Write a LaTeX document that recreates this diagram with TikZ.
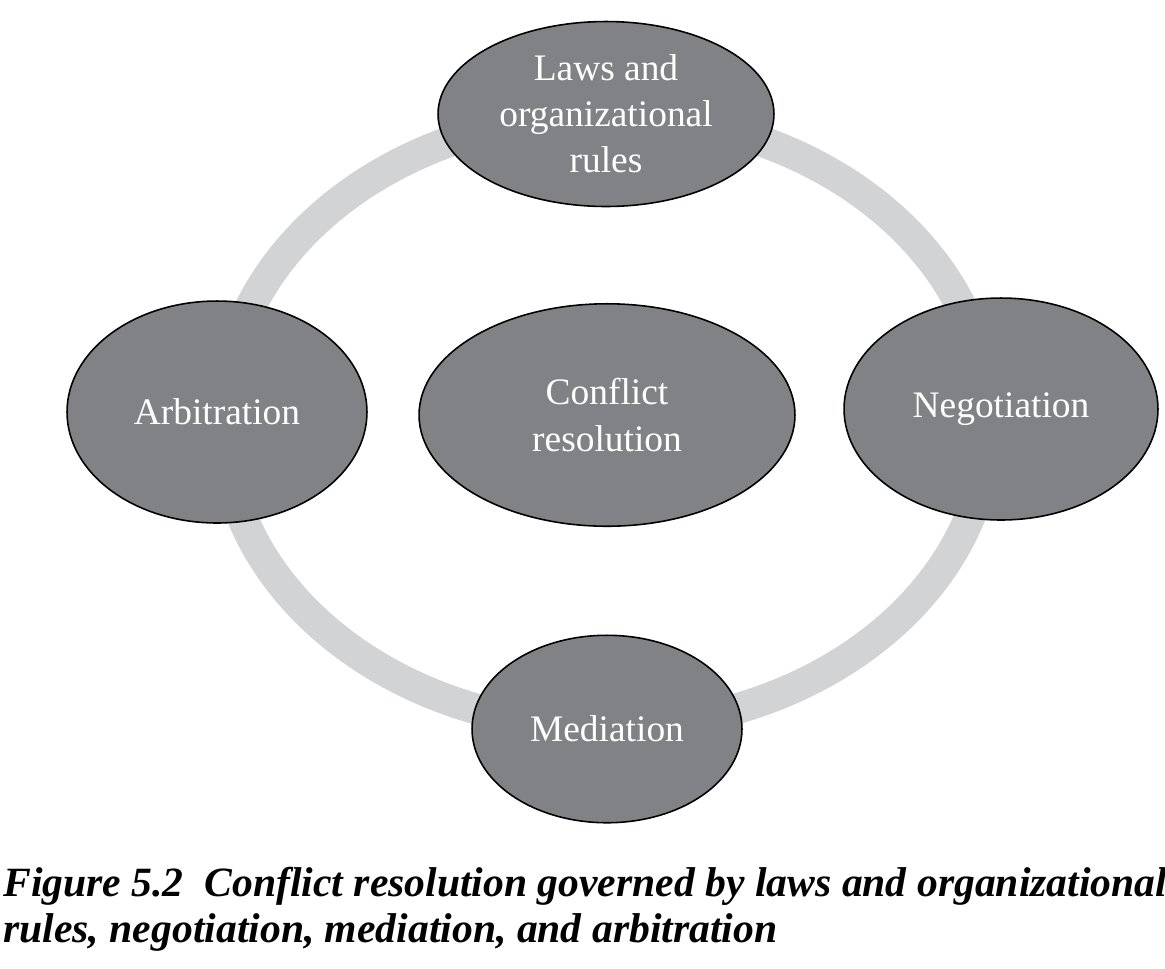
\documentclass[tikz,border=0pt]{standalone}
\usepackage{fontspec}
\setmainfont{Liberation Serif}
\usetikzlibrary{shapes.geometric}
\definecolor{bubblegray}{RGB}{128,130,133}
\definecolor{ringgray}{RGB}{209,211,212}
\tikzset{
  method bubble/.style={
    ellipse, draw=black, line width=0.9pt,
    fill=bubblegray, text=white, align=center,
    inner sep=0pt, font=\fontsize{21.3}{26.2}\selectfont
  },
  cycle ring/.style={draw=ringgray, line width=17.6pt},
  figure caption/.style={anchor=base west, inner sep=0pt,
    font=\fontsize{23.7}{27}\selectfont\bfseries\itshape}
}

\begin{document}
\begin{tikzpicture}[x=0.02cm, y=-0.02cm]
    \useasboundingbox (0,0) rectangle (1165,968);
    \coordinate (hub) at (606,421);
    \draw[cycle ring] (hub) ellipse [x radius=383, y radius=306];
    \node[method bubble, minimum width=6.72cm, minimum height=3.7cm] (laws) at (606,114)
      {Laws and\\organizational\\rules};
    \node[method bubble, minimum width=6cm, minimum height=4.44cm] (arbitration) at (217,412)
      {Arbitration};
    \node[method bubble, minimum width=7.52cm, minimum height=4.45cm] (conflict) at (607,415)
      {Conflict\\resolution};
    \node[method bubble, minimum width=6.28cm, minimum height=4.44cm] (negotiation) at (1001,409)
      {Negotiation};
    \node[method bubble, minimum width=5.4cm, minimum height=3.75cm] (mediation) at (607,729)
      {Mediation};
    \node[figure caption] (caption top) at (3,896)
      {Figure 5.2\enspace Conflict resolution governed by laws and organizational};
    \node[figure caption] (caption bottom) at (3,942)
      {rules, negotiation, mediation, and arbitration};
  \end{tikzpicture}
\end{document}
